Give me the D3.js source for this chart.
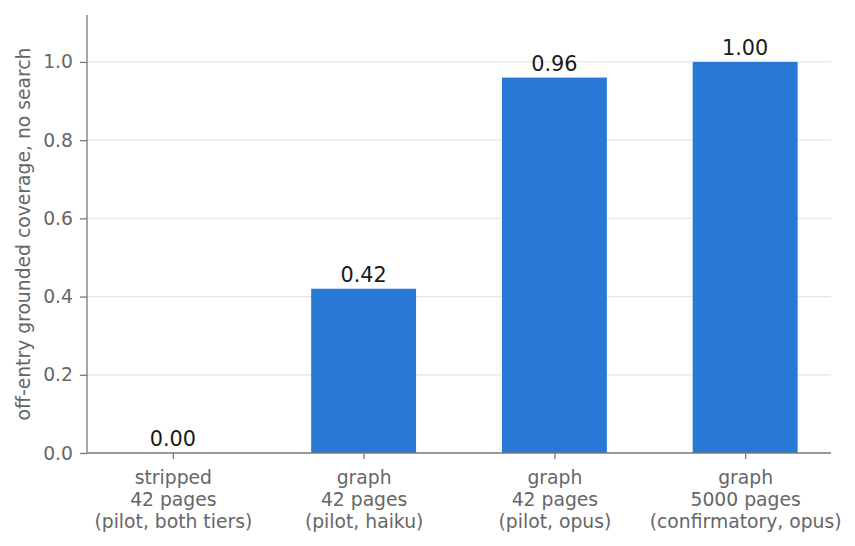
<!DOCTYPE html>
<html><head><meta charset="utf-8">
<script src="https://cdn.jsdelivr.net/npm/d3@7"></script>
<style>body{margin:0;background:#fff;}svg{display:block;font-family:"DejaVu Sans",sans-serif;}</style>
</head><body>
<svg id="c" width="855" height="546"></svg>
<script>
const categories = [
  ["stripped", "42 pages", "(pilot, both tiers)"],
  ["graph", "42 pages", "(pilot, haiku)"],
  ["graph", "42 pages", "(pilot, opus)"],
  ["graph", "5000 pages", "(confirmatory, opus)"]
];
const values = [0.00, 0.42, 0.96, 1.00];
const yTicks = [0.0, 0.2, 0.4, 0.6, 0.8, 1.0];
const yLabel = "off-entry grounded coverage, no search";

const svg = d3.select("#c");
const L = 87, R = 831, T = 15, B = 453;
const x = d3.scaleLinear().domain([-0.45, categories.length - 0.55]).range([L, R]);
const y = d3.scaleLinear().domain([0, 1.12]).range([B, T]);
const bw = 0.55;
const fs = 18.75, fsv = 20.8;

// gridlines
svg.append("g").selectAll("line").data(yTicks.filter(d => d > 0)).join("line")
  .attr("x1", L).attr("x2", R).attr("y1", d => y(d)).attr("y2", d => y(d))
  .attr("stroke", "#e6e6e6").attr("stroke-width", 1.2);

// bars
svg.append("g").selectAll("rect").data(values).join("rect")
  .attr("x", (d, i) => x(i - bw / 2)).attr("width", (d, i) => x(i + bw / 2) - x(i - bw / 2))
  .attr("y", d => y(d)).attr("height", d => B - y(d))
  .attr("fill", "#2878d6");

// value labels
svg.append("g").selectAll("text").data(values).join("text")
  .attr("x", (d, i) => x(i)).attr("y", d => y(d) - 7)
  .attr("text-anchor", "middle").attr("font-size", fsv).attr("fill", "#1a1a1a")
  .text(d => d.toFixed(2));

// y axis
const yAxis = d3.axisLeft(y).tickValues(yTicks).tickFormat(d3.format(".1f")).tickSize(7).tickPadding(7);
const gy = svg.append("g").attr("transform", `translate(${L},0)`).call(yAxis);
gy.select(".domain").remove();
gy.selectAll(".tick line").attr("stroke", "#777").attr("stroke-width", 1.3);
gy.selectAll(".tick text").attr("font-size", fs).attr("fill", "#666").attr("font-family", "DejaVu Sans");

// x axis
const xAxis = d3.axisBottom(x).tickValues(d3.range(categories.length)).tickSize(6).tickFormat("");
const gx = svg.append("g").attr("transform", `translate(0,${B})`).call(xAxis);
gx.select(".domain").remove();
gx.selectAll(".tick line").attr("stroke", "#777").attr("stroke-width", 1.3);
gx.selectAll(".tick").each(function(d, i) {
  const t = d3.select(this).append("text").attr("text-anchor", "middle")
    .attr("font-size", fs).attr("fill", "#666").attr("font-family", "DejaVu Sans");
  categories[i].forEach((line, k) => {
    t.append("tspan").attr("x", 0).attr("y", 30.5 + k * 22).text(line);
  });
});

// spines
svg.append("line").attr("x1", L).attr("x2", L).attr("y1", T).attr("y2", B).attr("stroke", "#777").attr("stroke-width", 1.3);
svg.append("line").attr("x1", L).attr("x2", R).attr("y1", B).attr("y2", B).attr("stroke", "#777").attr("stroke-width", 1.3);

// y label
svg.append("text").attr("transform", `translate(30,${(T + B) / 2}) rotate(-90)`)
  .attr("text-anchor", "middle").attr("font-size", fs).attr("fill", "#666").text(yLabel);
</script>
</body></html>
